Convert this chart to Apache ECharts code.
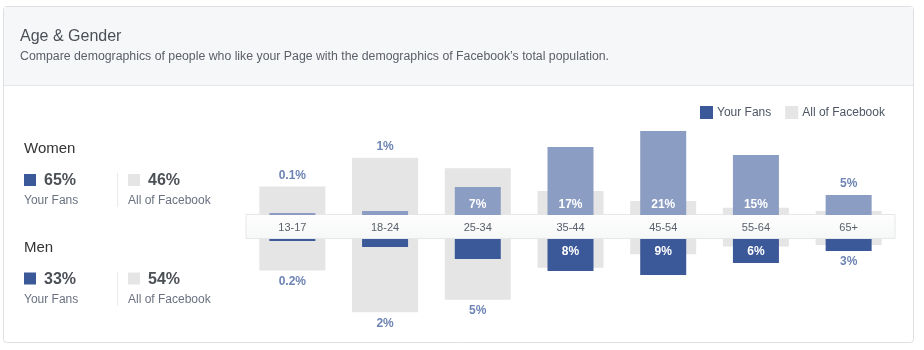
<!DOCTYPE html>
<html>
<head>
<meta charset="utf-8">
<title>Age & Gender</title>
<script src="https://cdn.jsdelivr.net/npm/echarts@6/dist/echarts.min.js"></script>
<style>
  html, body { margin: 0; padding: 0; background: #ffffff; }
  #chart { width: 924px; height: 350px; }
</style>
</head>
<body>
<div id="chart"></div>
<script>
// Age groups shown along the middle band
const ageGroups = ['13-17', '18-24', '25-34', '35-44', '45-54', '55-64', '65+'];

// Share of fans / of all Facebook users per age group, in percent
const womenFans = [0.1, 1, 7, 17, 21, 15, 5];
const womenAll = [7.1, 14.3, 11.7, 6, 3.5, 1.8, 1];
const menFans = [0.2, 2, 5, 8, 9, 6, 3];
const menAll = [7.9, 18.3, 15.2, 7.2, 3.8, 1.9, 1.5];

// Gender totals for the summary panel
const genders = ['Women', 'Men'];
const fanTotals = [65, 33];
const allTotals = [46, 54];

const FANS = 'Your Fans';
const ALL = 'All of Facebook';
const COLOR_WOMEN = '#8b9dc3';
const COLOR_MEN = '#3b5998';
const COLOR_GREY = '#e5e5e5';
const LABEL_BLUE = '#6d84b4';
const FONT = '"Liberation Sans", Arial, Helvetica, sans-serif';
const INSIDE_MIN = 6; // bars at least this tall carry their value inside

function pct(v) {
  return (v < 1 ? v.toFixed(1) : Math.round(v)) + '%';
}

const outsideLabel = {
  show: true,
  distance: 5,
  color: LABEL_BLUE,
  fontSize: 12,
  fontWeight: 'bold',
  fontFamily: FONT
};

// Grey bars carry the fan value beyond them when they are the longer bar
function greyItems(all, fans, side) {
  return all.map((v, i) => {
    const f = fans[i];
    const show = f < INSIDE_MIN && v >= f;
    return {
      value: v,
      label: show ? Object.assign({}, outsideLabel, {
        position: side, formatter: () => pct(f)
      }) : { show: false }
    };
  });
}

function fanItems(fans, all, side, insidePos, insideDist) {
  return fans.map((f, i) => {
    let label;
    if (f >= INSIDE_MIN) {
      label = {
        show: true, position: insidePos, distance: insideDist,
        color: '#ffffff', fontSize: 12, fontWeight: 'bold', fontFamily: FONT,
        formatter: () => pct(f)
      };
    } else if (f > all[i]) {
      label = Object.assign({}, outsideLabel, { position: side, formatter: () => pct(f) });
    } else {
      label = { show: false };
    }
    return { value: f, label: label };
  });
}

// Summary block for one gender, c = vertical centre of the heading
function summaryBlock(idx, c) {
  const mid = { verticalAlign: 'middle' };
  return [
    { type: 'text', x: 24, y: c, style: Object.assign({ text: genders[idx], font: '15px ' + FONT, fill: '#333333' }, mid) },
    { type: 'rect', shape: { x: 24, y: c + 25, width: 12, height: 12 }, style: { fill: COLOR_MEN } },
    { type: 'text', x: 44, y: c + 32, style: Object.assign({ text: fanTotals[idx] + '%', font: 'bold 16px ' + FONT, fill: '#4b4f56' }, mid) },
    { type: 'text', x: 24, y: c + 52, style: Object.assign({ text: FANS, font: '12px ' + FONT, fill: '#6a7180' }, mid) },
    { type: 'rect', shape: { x: 117, y: c + 24, width: 1, height: 34 }, style: { fill: '#e9eaed' } },
    { type: 'rect', shape: { x: 128, y: c + 25, width: 12, height: 12 }, style: { fill: COLOR_GREY } },
    { type: 'text', x: 148, y: c + 32, style: Object.assign({ text: allTotals[idx] + '%', font: 'bold 16px ' + FONT, fill: '#4b4f56' }, mid) },
    { type: 'text', x: 128, y: c + 52, style: Object.assign({ text: ALL, font: '12px ' + FONT, fill: '#6a7180' }, mid) }
  ];
}

const chart = echarts.init(document.getElementById('chart'), null, { renderer: 'canvas' });

const option = {
  animation: false,
  textStyle: { fontFamily: FONT },
  graphic: [
    // card frame and header band
    { type: 'rect', z: -10, shape: { x: 3.5, y: 6.5, width: 910, height: 336, r: 3 },
      style: { fill: '#ffffff', stroke: '#dddfe2', lineWidth: 1 } },
    { type: 'rect', z: -9, shape: { x: 4, y: 7, width: 909, height: 78 },
      style: { fill: '#f6f7f9' } },
    { type: 'rect', z: -9, shape: { x: 4, y: 85, width: 909, height: 1 },
      style: { fill: '#e5e6e9' } },
    { type: 'text', x: 20, y: 37, style: { text: 'Age & Gender', font: '16px ' + FONT, fill: '#4b4f56', verticalAlign: 'middle' } },
    { type: 'text', x: 20, y: 57, style: {
        text: 'Compare demographics of people who like your Page with the demographics of Facebook\u2019s total population.',
        font: '12.3px ' + FONT, fill: '#5a5f68', verticalAlign: 'middle' } },
    // middle band holding the age labels
    { type: 'rect', z: -5, shape: { x: 246, y: 214.5, width: 649, height: 24 },
      style: {
        fill: new echarts.graphic.LinearGradient(0, 0, 0, 1, [
          { offset: 0, color: '#fefefe' }, { offset: 1, color: '#f6f7f7' }
        ]),
        stroke: '#e6e7ea', lineWidth: 1
      } }
  ].concat(summaryBlock(0, 149), summaryBlock(1, 247.5)),
  legend: {
    left: 700, top: 106, padding: 0,
    icon: 'rect', itemWidth: 13, itemHeight: 13, itemGap: 14,
    selectedMode: false,
    textStyle: { fontSize: 12, color: '#4e5665', fontFamily: FONT, padding: [0, 0, 0, -1] },
    data: [
      { name: FANS, itemStyle: { color: COLOR_MEN } },
      { name: ALL, itemStyle: { color: COLOR_GREY } }
    ]
  },
  grid: [
    { left: 246, width: 649, top: 115, height: 100 },
    { left: 246, width: 649, top: 239, height: 100 }
  ],
  xAxis: [
    { type: 'category', gridIndex: 0, data: ageGroups, show: false },
    { type: 'category', gridIndex: 0, data: ageGroups, position: 'bottom', z: 10,
      axisLine: { show: false }, axisTick: { show: false },
      axisLabel: { color: '#5a606c', fontSize: 11, margin: 7, fontFamily: FONT } },
    { type: 'category', gridIndex: 1, data: ageGroups, show: false },
    { type: 'category', gridIndex: 1, data: ageGroups, show: false }
  ],
  yAxis: [
    { type: 'value', gridIndex: 0, min: 0, max: 25, show: false },
    { type: 'value', gridIndex: 1, min: 0, max: 25, inverse: true, show: false }
  ],
  series: [
    { name: ALL, type: 'bar', xAxisIndex: 0, yAxisIndex: 0, barWidth: 66,
      itemStyle: { color: COLOR_GREY }, emphasis: { disabled: true }, silent: true,
      data: greyItems(womenAll, womenFans, 'top') },
    { name: FANS, type: 'bar', xAxisIndex: 1, yAxisIndex: 0, barWidth: 46, barMinHeight: 2,
      itemStyle: { color: COLOR_WOMEN }, emphasis: { disabled: true }, silent: true,
      data: fanItems(womenFans, womenAll, 'top', 'insideBottom', 4) },
    { name: ALL, type: 'bar', xAxisIndex: 2, yAxisIndex: 1, barWidth: 66,
      itemStyle: { color: COLOR_GREY }, emphasis: { disabled: true }, silent: true,
      data: greyItems(menAll, menFans, 'bottom') },
    { name: FANS, type: 'bar', xAxisIndex: 3, yAxisIndex: 1, barWidth: 46, barMinHeight: 2,
      itemStyle: { color: COLOR_MEN }, emphasis: { disabled: true }, silent: true,
      data: fanItems(menFans, menAll, 'bottom', 'insideTop', 7) }
  ]
};

chart.setOption(option);
</script>
</body>
</html>
